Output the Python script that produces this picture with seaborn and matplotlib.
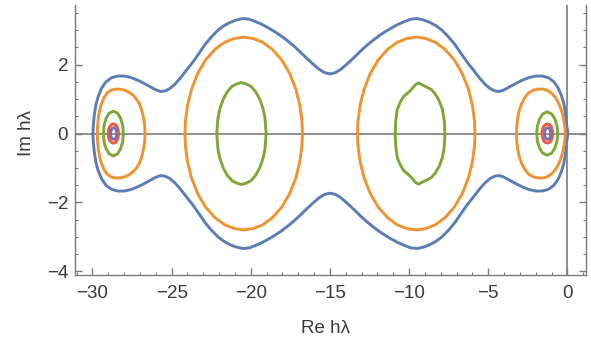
import numpy as np
import pandas as pd
import matplotlib
matplotlib.use("Agg")
import matplotlib.pyplot as plt
import seaborn as sns
from matplotlib.ticker import MultipleLocator

# upper halves of each contour (Re, Im); lower half is the mirror image
blue_x = [-29.97, -29.95, -29.88, -29.78, -29.62, -29.42, -29.15, -28.8, -28.4, -28.0, -27.6, -27.2,
          -26.8, -26.4, -26.0, -25.7, -25.4, -25.1, -24.8, -24.45, -24.1, -23.7, -23.3, -22.9,
          -22.5, -22.1, -21.7, -21.3, -20.9, -20.5, -20.1, -19.7, -19.3, -18.9, -18.5, -18.1,
          -17.7, -17.3, -16.9, -16.5, -16.1, -15.7, -15.35, -15.0, -14.65, -14.3, -13.9, -13.5,
          -13.1, -12.7, -12.3, -11.9, -11.5, -11.1, -10.7, -10.3, -9.9, -9.5, -9.1, -8.7,
          -8.3, -7.9, -7.5, -7.1, -6.7, -6.3, -5.9, -5.55, -5.2, -4.9, -4.6, -4.3,
          -4.0, -3.6, -3.2, -2.8, -2.4, -2.0, -1.6, -1.2, -0.85, -0.58, -0.38, -0.22,
          -0.12, -0.05, 0.03]
blue_y = [0.0, 0.25, 0.55, 0.85, 1.1, 1.32, 1.5, 1.62, 1.67, 1.67, 1.63, 1.56,
          1.47, 1.37, 1.27, 1.22, 1.24, 1.31, 1.43, 1.61, 1.82, 2.05, 2.31, 2.58,
          2.8, 2.99, 3.13, 3.23, 3.3, 3.34, 3.32, 3.25, 3.17, 3.07, 2.96, 2.84,
          2.7, 2.55, 2.38, 2.2, 2.03, 1.87, 1.77, 1.73, 1.77, 1.87, 2.03, 2.2,
          2.38, 2.55, 2.7, 2.84, 2.96, 3.07, 3.17, 3.25, 3.32, 3.34, 3.3, 3.23,
          3.13, 2.99, 2.8, 2.58, 2.31, 2.05, 1.82, 1.61, 1.43, 1.31, 1.24, 1.22,
          1.27, 1.37, 1.47, 1.56, 1.63, 1.67, 1.67, 1.62, 1.5, 1.32, 1.1, 0.85,
          0.55, 0.25, 0.0]

orange_x = [
    [-29.69, -29.68, -29.64, -29.56, -29.44, -29.28, -29.07, -28.82, -28.55, -28.27, -27.98,
     -27.7, -27.45, -27.22, -27.03, -26.88, -26.77, -26.7, -26.68],
    [-24.16, -24.13, -24.0, -23.75, -23.35, -22.85, -22.25, -21.65, -21.05, -20.45,
     -19.85, -19.25, -18.65, -18.05, -17.55, -17.15, -16.9, -16.77, -16.74],
    [-13.26, -13.23, -13.1, -12.85, -12.45, -11.95, -11.35, -10.75, -10.15, -9.55,
     -8.95, -8.35, -7.75, -7.15, -6.65, -6.25, -6.0, -5.87, -5.84],
    [-3.22, -3.2, -3.15, -3.05, -2.9, -2.7, -2.45, -2.15, -1.85, -1.55, -1.25,
     -0.98, -0.75, -0.55, -0.4, -0.28, -0.2, -0.16, -0.14],
]
orange_y = [
    [0.0, 0.2, 0.42, 0.65, 0.86, 1.04, 1.18, 1.26, 1.29, 1.29, 1.26,
     1.2, 1.12, 1.0, 0.86, 0.66, 0.44, 0.22, 0.0],
    [0.0, 0.36, 0.81, 1.28, 1.75, 2.14, 2.45, 2.65, 2.76, 2.8,
     2.76, 2.65, 2.45, 2.14, 1.75, 1.28, 0.81, 0.36, 0.0],
    [0.0, 0.36, 0.81, 1.28, 1.75, 2.14, 2.45, 2.65, 2.76, 2.8,
     2.76, 2.65, 2.45, 2.14, 1.75, 1.28, 0.81, 0.36, 0.0],
    [0.0, 0.22, 0.44, 0.66, 0.86, 1.04, 1.18, 1.26, 1.29, 1.29, 1.25,
     1.16, 1.04, 0.88, 0.7, 0.5, 0.3, 0.15, 0.0],
]

green_x = [
    [-29.31, -29.27, -29.15, -28.95, -28.68, -28.41, -28.21, -28.09, -28.05],
    [-22.15, -22.07, -21.94, -21.74, -21.49, -21.19, -20.89, -20.59, -20.29, -19.99,
     -19.69, -19.44, -19.24, -19.11, -19.03],
    [-10.88, -10.85, -10.75, -10.57, -10.36, -10.1, -9.85, -9.6, -9.41, -9.2, -8.9,
     -8.6, -8.35, -8.1, -7.9, -7.78, -7.74],
    [-1.94, -1.9, -1.77, -1.56, -1.28, -1.0, -0.79, -0.66, -0.62],
]
green_y = [
    [0.0, 0.23, 0.43, 0.59, 0.65, 0.59, 0.43, 0.23, 0.0],
    [0.0, 0.47, 0.74, 1.0, 1.21, 1.37, 1.44, 1.48, 1.44, 1.37,
     1.21, 1.0, 0.74, 0.47, 0.0],
    [0.0, 0.35, 0.7, 0.9, 1.07, 1.17, 1.28, 1.42, 1.47, 1.42, 1.35,
     1.28, 1.15, 0.95, 0.7, 0.38, 0.0],
    [0.0, 0.22, 0.42, 0.57, 0.63, 0.57, 0.42, 0.22, 0.0],
]

red_x = [
    [-29.01, -28.98, -28.9, -28.8, -28.68, -28.56, -28.46, -28.38, -28.35],
    [-1.61, -1.58, -1.5, -1.39, -1.27, -1.15, -1.04, -0.96, -0.93],
]
red_y = [
    [0.0, 0.12, 0.21, 0.26, 0.28, 0.26, 0.21, 0.12, 0.0],
    [0.0, 0.12, 0.21, 0.26, 0.28, 0.26, 0.21, 0.12, 0.0],
]

purple_x = [
    [-28.86, -28.83, -28.76, -28.66, -28.56, -28.49, -28.46],
    [-1.45, -1.42, -1.35, -1.25, -1.15, -1.08, -1.05],
]
purple_y = [
    [0.0, 0.09, 0.15, 0.17, 0.15, 0.09, 0.0],
    [0.0, 0.09, 0.15, 0.17, 0.15, 0.09, 0.0],
]

colors = {"blue": "#5A7DB5", "orange": "#EF9330", "green": "#7CA83A",
          "red": "#EB5A3C", "purple": "#7A6FB5"}

sns.set_style("white")
plt.rcParams['font.family'] = ['Liberation Sans', 'DejaVu Sans']

fig = plt.figure(figsize=(5.91, 3.40), dpi=100)
ax = fig.add_axes([0.127, 0.190, 0.864, 0.795])

# coordinate axes through the origin
ax.axhline(0, color="#7a7a7a", lw=1.2, zorder=1)
ax.axvline(0, color="#7a7a7a", lw=1.2, zorder=1)


def closed(xs, ys):
    xs = list(xs)
    ys = list(ys)
    return xs + xs[::-1][1:], ys + [-v for v in ys[::-1][1:]]


def draw(xs, ys, color):
    cx, cy = closed(xs, ys)
    df = pd.DataFrame({"x": cx, "y": cy})
    sns.lineplot(data=df, x="x", y="y", sort=False, estimator=None,
                 color=color, lw=2.1, ax=ax, zorder=3)


draw(blue_x, blue_y, colors["blue"])
for xs, ys in zip(orange_x, orange_y):
    draw(xs, ys, colors["orange"])
for xs, ys in zip(green_x, green_y):
    draw(xs, ys, colors["green"])
for xs, ys in zip(red_x, red_y):
    draw(xs, ys, colors["red"])
for xs, ys in zip(purple_x, purple_y):
    draw(xs, ys, colors["purple"])

ax.set_xlim(-31.1, 1.15)
ax.set_ylim(-4.12, 3.73)

ax.xaxis.set_major_locator(MultipleLocator(5))
ax.xaxis.set_minor_locator(MultipleLocator(1))
ax.yaxis.set_major_locator(MultipleLocator(2))
ax.yaxis.set_minor_locator(MultipleLocator(0.5))

frame_col = "#7a7a7a"
for side in ["left", "bottom", "right"]:
    ax.spines[side].set_visible(True)
    ax.spines[side].set_color(frame_col)
    ax.spines[side].set_linewidth(1.0)
ax.spines["top"].set_visible(False)

ax.tick_params(which="both", direction="in", color=frame_col, labelcolor="#3a3a3a",
               labelsize=13.5, left=True, bottom=True, right=True, top=False,
               labelright=False)
ax.tick_params(which="major", length=5, width=1.0)
ax.tick_params(which="minor", length=2.5, width=0.8)
ax.tick_params(axis="x", pad=7)
ax.tick_params(axis="y", pad=5)

ax.set_xticks(np.arange(-30, 1, 5))
ax.set_xticklabels(["\u221230", "\u221225", "\u221220", "\u221215", "\u221210", "\u22125", "0"])
ax.set_yticks([-4, -2, 0, 2])
ax.set_yticklabels(["\u22124", "\u22122", "0", "2"])

ax.set_xlabel("Re h\u03bb", fontsize=13.5, color="#3a3a3a")
ax.set_ylabel("Im h\u03bb", fontsize=13.5, color="#3a3a3a")
ax.xaxis.set_label_coords(0.49, -0.165)
ax.yaxis.set_label_coords(-0.078, 0.528)

fig.savefig("out.png", dpi=100)
